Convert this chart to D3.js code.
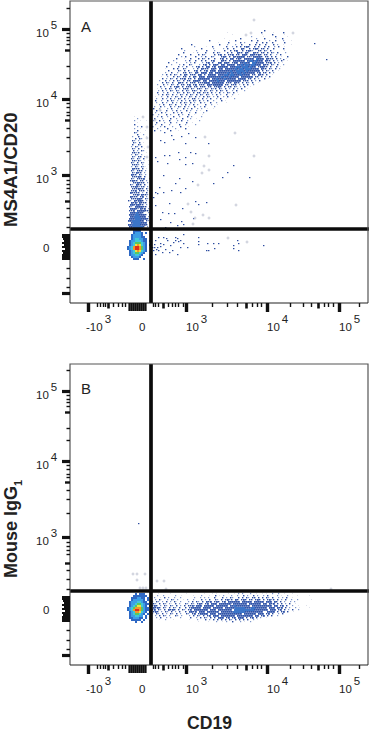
<!DOCTYPE html>
<html>
<head>
<meta charset="utf-8">
<script src="https://cdn.jsdelivr.net/npm/d3@7"></script>
<style>
    html, body { margin: 0; padding: 0; background: #fff; }
    text { font-family: "Liberation Sans", sans-serif; fill: #222; }
</style>
</head>
<body>
<div id="my_dataviz"></div>
<script>
// All values are in cytometer display channels (biexponential axis, 0-596 / 0-604)
const xDomain = [0, 596];
const yDomain = [0, 604];
const gateX = 162;
const gateY = 148;

// Tick channels
const xTicksMajor = [36, 232, 394, 538];
const xTicksMedium = [76, 186, 352, 496];
const xTicksMinor = [54, 60, 66, 70, 86, 96, 104, 110, 166, 170, 176, 196, 204, 210, 216, 226,
    284, 314, 334, 364, 374, 382, 440, 466, 482, 508, 516, 526, 578];
const xTicksZero = [118, 122, 126, 130, 134, 138, 142, 146, 150];
const yTicksMajor = [548, 408, 256, 20];
const yTicksMedium = [506, 366, 204];
const yTicksMinor = [590, 540, 532, 526, 518, 474, 450, 400, 392, 382, 376, 350, 332, 304,
    246, 238, 230, 222, 190, 172, 152, 70, 50, 32];
const yTicksZero = [136, 132, 128, 124, 120, 116, 112, 108, 104, 100, 96, 92, 88];
const yTicksZeroLen = [8, 8, 7, 6, 8, 6, 8, 5, 8, 7, 8, 8, 8];

// Tick labels
const xLabelAt = [36, 134, 232, 394, 538];
const xLabelBase = ["-10", "0", "10", "10", "10"];
const xLabelExp = ["3", "", "3", "4", "5"];
const yLabelAt = [548, 408, 256, 118];
const yLabelBase = ["10", "10", "10", "0"];
const yLabelExp = ["5", "4", "3", ""];

// Binned events: " " none, "." one faint, "+" few, "#" several, "%" dense, "@" densest
// Panel A, CD19+ CD20+ population (first row at channel 164,546, one char = 4 channels)
const cloudA = [
"                                                        #",
"                                     .                #     .    #",
"                                        .              .    #     .",
"                                                 +     .     #     .",
"                                    .       #       +   #     .  #",
"                            #         .  #       #  #     +  #   +   .",
"                                 .    #     # +     #  # #  #     #",
"                   #             #   +   +  #   #  # #  #   # +  .   .",
"                     +     .  #      #  + # # #%#  # #  # #  + #  .",
"              #         #     +    + #  #   %#  # #%# ## #  #    #",
"                +     +    #   +    #  # #%  # #%#+  ## #+ #      .",
"               #    . +   #   # #+   # #  %## %#  %## ## # #+ #   +",
"             #     #   # #+    # #% # ##% ## %%# %%##%# ## #  + #",
"              + #    #  + #  #+   #%# # %#%%%% ##+%%%%# ## # #  .  #",
"            #   .  #   # #+ #  #  #% # %% #%# %%%%% @%%% %### # +  .",
"          +     + #  #  # #  #%   %## # %%%%%% %@@%@%%% %## # + #  .",
"        #   +    + + #   + #% #  %% %%# #%% %%@%% @@%%%% ##% # + .",
"         +   + #  #+   + #% # %%# %% %%%% %%@%@@%@@%%% %## #+ #  +",
"       #     # + #  + #% # %% #% %%%%% %%%@@%@@@%@%% #%%## #  # .",
"      .   # #  #+   + # %### %%# %% %%%%%@%@@%@@@%%%% %## #+ # +",
"        #    #+ # #  #% # #% %%% %%%%%%@%%@@@@%@%%%%%% # #+ #  .",
"      +  #  +  ## #+ %# %%% %% %%%%%%@%@%%@@%@%%%%% #% ## # +",
"     + # # #+ # %# ### %% # %%%% %%%@@%@@%%%@%%%% ## %## #  .",
"    .  +  # #+ ## # %# %%% %%%%%%%@%%%@%%%% %%%%%% ## # + #",
"     # + #+ # ##% ## # %%%%%% %%@%%%@%%%%% %%%% ## # +  # .",
"   +  # + # #+ # ## %%%# %% %%%%@%%% %%%%%%% ### # + #",
"     # #+ #  %## # ### ###%%% %%%%%% ### %## # #+ #  .",
"  +  # + #+ # ## #% #% ### %%#%%%%% ## ### + # #  +",
"    # +  # #%# # ### ## ### ## ##%# # ## #+ + #  .",
"  . + # #+ # + ### #+ ##+ #+ #+# #+ # + # + #  .",
"   + # + #+ #+ # #+ ##+ # #+ #+ # #+ #  + #   +",
"  #  + #  + #+ # #+ # ## #+# # + # + #+ # .",
"   + # #+ # + #+ # #+ # #+ #+ + # +  #  +  .",
" .  +  # + #+ # + #+ # + # #+ + #  + # .",
"  +  # + # + #+ # + ## + # + #  + #  .   +",
" #  +  # #+ + # + # #+ # + #  +   # .",
"  +  # +  # + # #+ # +  # +  #  +    .",
"   + #  #+ #  + # + # +   #  +  .",
" +  # +  # + #+ # +  #  + #    +",
"#  +   + #  +  # + #  + +  .  .",
"  # +  #  + # +  # +  + .  #",
" +  # +   # + #   +  #   +",
"#  +   # +   # +  #  .   .",
"  + #  +  #  +   # +    +",
" #   +   #  +  #   +  .",
"+  # +  #   + #  +     +",
"  #   +  #  +    #  .",
" +  #   +    #  +    +",
"#   + #   +   #   .",
"  +    #   +    #",
" #  +    #   ."
];

// Panel A, CD20 dim column left of the gate (first row at channel 108,374)
const columnA = [
"     .   .   ", "      +      ", "     +  .  . ", "      .      ",
"     #       ", "      + #  . ", "     +  .    ", "      #   .  ",
"     #+ .    ", "      #  +   ", "    +  #   . ", "     # #+    ",
"    #+ +     ", "    #+ # .  .", "    #  #+    ", "   + #+ #   .",
"    #+ #  .  ", "    # + #+   ", "    ##+#   . ", "   + #+ +    ",
"    #+ ## +  ", "   #+ #+ #   ", "    ##+#+ . .", "   #+ # #+   ",
"    ###+ +  .", "   + #+ #+.  ", "    %### # . ", "   #+ ### + ",
"    #+%## +  ", "   %## #+ + .", "    ###%# #  ", "   #+ ###%  +",
"   #%## ## + ", "    ##%### + ", "   #+ %## #  ", "   ##%#+## + ",
"    ###%## #.", "   ##% ### + ", "   %#### + # ", "    ##%+%##+ ",
"   %### #% + ", "   ###%%# #+ ", "  #+ %#%%# + ", "   %#%+%### +",
"   %%#%%## + ", "  #+ %%%%## +", "   %%%#+%#% +", "  ##% %%%%## ",
"   %%%@%%#  +", "  %%%@@%%%# #", "   %%@@@%%% +", "  %%%@@@%%%# ",
"  %%@@@@%% #+", "   %@@@@%%% #", "  %%@@@@%%%# ", "  %%@@@@@# + ",
"   %@@@@%%#  "
];

// Single events, panel A
const sparseA = [
[188,342],[202,336],[222,334],[236,340],[180,326],[188,322],[206,328],[230,320],[250,332],[276,320],
[216,302],[240,302],[250,300],[170,292],[188,296],[198,296],[230,292],[174,284],[194,280],[218,288],
[244,280],[230,278],[186,256],[218,250],[244,244],[286,240],[314,262],[326,276],[358,252],[304,252],
[210,240],[202,226],[220,222],[230,230],[178,232],[170,222],[166,212],[174,220],[186,222],[250,204],
[256,198],[272,202],[198,200],[224,190],[170,196],[184,182],[196,180],[208,180],[180,168],[200,162],
[214,156],[222,164],[246,170],[226,158],[190,152],[488,520],[512,488],[426,488],
[256,132],[256,124],[256,118],[274,120],[286,120],[296,120],[334,126],[336,120],[386,116],[288,110],
[276,106],[326,116],[234,112],[220,112],[200,116],[186,118],[174,112],[168,112],[180,114],[176,106],
[184,102],[204,106],[214,98],[194,126],[214,130],[206,122],[210,132],[216,124],[176,132],[186,132],
[170,126],[226,120],[272,106],[326,110],[336,106],[226,138],[192,130],[210,126],[168,118],[172,108],
[164,112],[166,106],[180,120],[190,108],[198,102],[170,98],[220,126]
];
const faintA = [
[270,332],[330,340],[278,294],[368,294],[268,274],[278,266],[264,260],[256,236],[332,196],[242,182],
[278,170],[266,176],[236,198],[250,170],[246,158],[368,566],[446,540],[362,540],[352,536],[316,130],
[354,122],[146,372],[154,352],[154,330],[156,312],[154,292],[170,366],[180,386]
];

// Pseudocolour density near the origin, 1 (low) to 7 (high), first row at channel 114,146
const blobA = [
"   1111     ",
"   12221 1  ",
"  122221    ",
"  1222211   ",
"  12332211  ",
" 122333211 1",
" 123444321  ",
" 123565321 1",
"1236776421  ",
"1236776421  ",
" 123565321  ",
" 12344321   ",
" 1223321    ",
"  12221     ",
"   111  1   "
];

// Panel B, CD19+ band with the isotype control (first row at channel 164,144)
const bandB = [
"   .     .       .        .   . .     .  . + +   +  .  . .  +  +  .   .",
"  +  +     +  .     .   +   .  # . +   +  +  # +  # +  + #    + .  +    .     .",
" +  . # +  +  +      +  + + +  #   # + #+  # # #+ ## # # #+ #  + + #  .",
" + #.  + #+ +  . +  +   # + #  #+ # #%+# %# #%# ## #%# # #%+# # + #  +  +      .",
"+ #+ + # + #. +   + # #+ # %#% #%# #% %%%%%% %%%%% %%%%% %%% %# # +  + +",
"#+ # #+ +. # +  #+ #+ #%# #% %%% %%%%%%+%%%%%%% %%%%%% %% %#% # # + #  .",
"#%# + #+ #+ # + # ##%+%%% %%%%% %%%%%% %%@%%%%%%% %%%%%%%%%% %% #% #  +  .   .",
"%#%# #+ # #+ #  # #%%%%% %%%% %%%%% %%%%%@@@@@%%%@@%%%%%% %%% %#% # +  + .    .",
"#% #+ # %#%# # #+ #% %%%%%%% %%% %%%%%%% @@@@@@@@@@%%%%%%% %%% #% # + #  +",
"#%# + #+ # + #  # %%#% %%% %%%%%% %%%%%%@@@@@@%%%%%%%%%  %%%% # #% #  .",
"+ #+ # + #+ # +  #+ #% #%%%% %%% %%%%%%%%%%%% %%%%%% %%% #% #  + #",
" + # #+ +  #+ +   + # #+ # #% %%% %%%%%%% %%%%%%%% %% #% # #  +",
"  + #  + +    +    #  + # #+ # # %%% #% #% %%% # #% # +  .",
"   .  +   .       .   +   # + # # # # #+ # # # #  + .",
"                       .    .   +  . +  #   + .  +"
];
const sparseB = [[136,284]];
const faintB = [[126,182],[134,182],[150,182],[134,170],[140,154],[146,154],[152,154],[174,168],[188,168],[192,152],[522,152]];
const blobB = [
"    1 111   ",
"   1111111  ",
"  1112211 1 ",
"  1222221 1 ",
" 122233211  ",
" 1223443211 ",
" 123455321 1",
"12346664211 ",
"12367764211 ",
" 123665321 1",
" 12344321 1 ",
" 1223322 1  ",
" 1122211 1  ",
"  11111 1   ",
"    1  1    "
];

var width = 369, height = 736;
var svg = d3.select("#my_dataviz")
    .append("svg")
    .attr("width", width)
    .attr("height", height)
    .style("display", "block");

var defs = svg.append("defs");
defs.append("filter").attr("id", "soft")
    .append("feGaussianBlur").attr("stdDeviation", 0.55);
defs.append("filter").attr("id", "softDots")
    .append("feGaussianBlur").attr("stdDeviation", 0.25);

// Scales
var x = d3.scaleLinear().domain(xDomain).range([70, 368]);
var y = d3.scaleLinear().domain(yDomain).range([303, 1]);

var eventColor = d3.scaleOrdinal()
    .domain([".", "+", "#", "%", "@"])
    .range(["#ccd1e0", "#7f96cb", "#2c4ca0", "#2d52a8", "#3b74c8"]);
var eventSize = d3.scaleOrdinal()
    .domain([".", "+", "#", "%", "@"])
    .range([1.6, 2.4, 2.8, 3.6, 4]);
var blobColor = d3.scaleOrdinal()
    .domain(["1", "2", "3", "4", "5", "6", "7"])
    .range(["#2f68c4", "#3e9ee6", "#42c8d8", "#58c860", "#f0e23c", "#f3972c", "#df2e1e"]);

// Turn a list of strings into cells, one char = 4 channels
function cells(rows, x0, y0, stagger) {
    let out = [];
    rows.forEach((row, i) => {
        row.split("").forEach((c, j) => {
            if (c != " ") out.push({ c: c, cx: x0 + j * 4 + (stagger ? (i % 2) * 2 : 0), cy: y0 - i * 4 });
        });
    });
    return out;
}

function drawEvents(g, rows, x0, y0) {
    g.append("g").attr("filter", "url(#softDots)")
        .selectAll("rect")
        .data(cells(rows, x0, y0, true))
        .enter()
        .append("rect")
        .attr("x", d => x(d.cx))
        .attr("y", d => y(d.cy))
        .attr("width", d => x(eventSize(d.c)) - x(0))
        .attr("height", d => y(0) - y(eventSize(d.c)))
        .style("fill", d => eventColor(d.c));
}

function drawBlob(g, rows, x0, y0) {
    g.append("g").attr("filter", "url(#soft)")
        .selectAll("rect")
        .data(cells(rows, x0, y0, false))
        .enter()
        .append("rect")
        .attr("x", d => x(d.cx))
        .attr("y", d => y(d.cy))
        .attr("width", x(4) - x(0))
        .attr("height", y(0) - y(4))
        .style("fill", d => blobColor(d.c));
}

function drawSingles(g, dark, faint) {
    g.append("g").selectAll("rect")
        .data(dark)
        .enter()
        .append("rect")
        .attr("x", d => x(d[0]))
        .attr("y", d => y(d[1]))
        .attr("width", x(2.8) - x(0))
        .attr("height", y(0) - y(2.4))
        .style("fill", "#2c4ca0");
    g.append("g").selectAll("path")
        .data(faint)
        .enter()
        .append("path")
        .attr("d", d3.symbol().type(d3.symbolCross).size(4.5))
        .attr("transform", d => "translate(" + x(d[0]) + "," + y(d[1]) + ")")
        .style("fill", "#c4c8d6");
}

function tickLayer(g, axis, vals, size, sw) {
    g.append("g")
        .call(axis.tickValues(vals).tickSize(size).tickFormat(""))
        .call(s => s.select(".domain").remove())
        .call(s => s.selectAll("line").style("stroke", "#111").style("stroke-width", sw));
}

function panel(yShift, letter, frameTop, draw) {
    var g = svg.append("g").attr("transform", "translate(0," + yShift + ")");

    draw(g);

    // Gates
    g.append("line")
        .attr("x1", x(gateX)).attr("x2", x(gateX))
        .attr("y1", y(frameTop)).attr("y2", y(0))
        .style("stroke", "#0b0b0b").style("stroke-width", 3.7);
    g.append("line")
        .attr("x1", x(0)).attr("x2", 369)
        .attr("y1", y(gateY)).attr("y2", y(gateY))
        .style("stroke", "#0b0b0b").style("stroke-width", 3.4);

    // Frame
    g.append("path")
        .attr("d", "M" + x(0) + "," + y(0) + "V" + y(frameTop) + "H" + x(xDomain[1]) + "V" + y(0))
        .style("fill", "none").style("stroke", "#555").style("stroke-width", 1.2);
    g.append("line")
        .attr("x1", x(0)).attr("x2", x(xDomain[1]))
        .attr("y1", y(0)).attr("y2", y(0))
        .style("stroke", "#222").style("stroke-width", 1.2);

    // X ticks
    var xg = g.append("g").attr("transform", "translate(0," + y(0) + ")");
    tickLayer(xg, d3.axisBottom(x), xTicksMinor, 4, 1.4);
    tickLayer(xg, d3.axisBottom(x), xTicksMedium, 5.5, 2.6);
    tickLayer(xg, d3.axisBottom(x), xTicksMajor, 9, 3.4);
    tickLayer(xg, d3.axisBottom(x), xTicksZero, 8, 2.2);

    // Y ticks
    var yg = g.append("g").attr("transform", "translate(" + x(0) + ",0)");
    tickLayer(yg, d3.axisLeft(y), yTicksMinor, 3.5, 1.4);
    tickLayer(yg, d3.axisLeft(y), yTicksMedium, 5, 2.4);
    tickLayer(yg, d3.axisLeft(y), yTicksMajor, 8, 3.2);
    yTicksZero.forEach((t, i) => {
        yg.append("rect")
            .attr("x", -yTicksZeroLen[i])
            .attr("y", y(t) - 1)
            .attr("width", yTicksZeroLen[i])
            .attr("height", 2)
            .style("fill", "#111");
    });

    // Tick labels
    xLabelAt.forEach((t, i) => {
        let nudge = i == 0 ? -2 : i == 1 ? 2 : 0;
        let label = g.append("text")
            .attr("x", x(t) + nudge)
            .attr("y", 331)
            .style("font-size", "11.5px")
            .text(xLabelBase[i]);
        label.append("tspan").attr("dx", 2).attr("dy", -8).text(xLabelExp[i]);
    });
    yLabelAt.forEach((t, i) => {
        let label = g.append("text")
            .attr("x", i == 3 ? 43 : 36)
            .attr("y", y(t) + 8)
            .style("font-size", "11.5px")
            .text(yLabelBase[i]);
        label.append("tspan").attr("dx", 2).attr("dy", -8).text(yLabelExp[i]);
    });

    // Panel letter
    g.append("text")
        .attr("x", 81)
        .attr("y", 32)
        .style("font-size", "15px")
        .text(letter);
}

// Panel A
panel(0, "A", 604, g => {
    drawEvents(g, cloudA, 164, 546);
    drawEvents(g, columnA, 108, 374);
    drawSingles(g, sparseA, faintA);
    drawBlob(g, blobA, 114, 146);
});

// Panel B
panel(362, "B", 602, g => {
    drawEvents(g, bandB, 164, 144);
    drawSingles(g, sparseB, faintB);
    drawBlob(g, blobB, 114, 144);
});

// Axis titles
svg.append("text")
    .attr("transform", "translate(17,227) rotate(-90)")
    .style("font-size", "18.6px").style("font-weight", "bold")
    .text("MS4A1/CD20");

var isotype = svg.append("text")
    .attr("transform", "translate(17,578) rotate(-90)")
    .style("font-size", "18px").style("font-weight", "bold")
    .text("Mouse IgG");
isotype.append("tspan").attr("dy", 5).style("font-size", "11px").text("1");

svg.append("text")
    .attr("x", 187)
    .attr("y", 729)
    .style("font-size", "17.6px").style("font-weight", "bold")
    .text("CD19");
</script>
</body>
</html>
